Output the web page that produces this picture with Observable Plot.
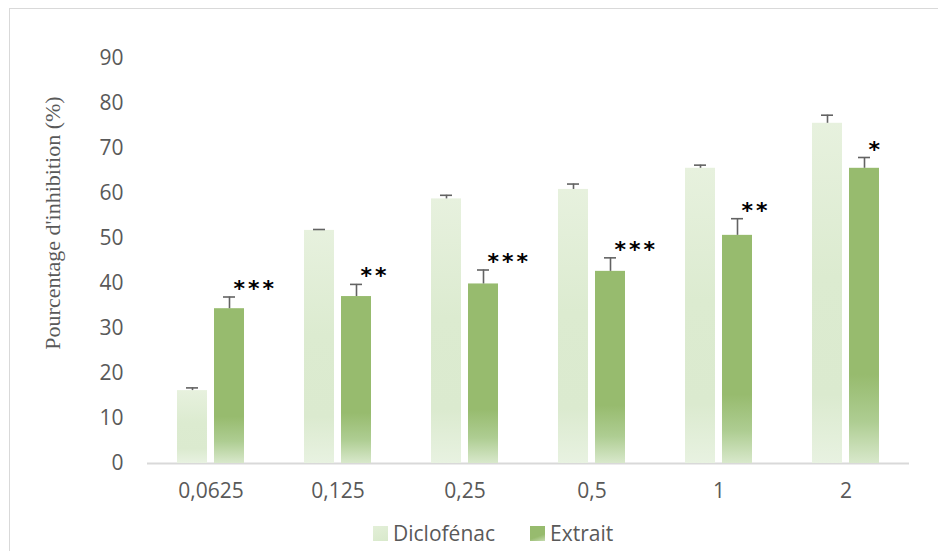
<!DOCTYPE html>
<html>
<head>
<meta charset="utf-8">
<script src="https://cdn.jsdelivr.net/npm/d3@7"></script>
<script src="https://cdn.jsdelivr.net/npm/@observablehq/plot@0.6"></script>
<style>
  html, body { margin: 0; padding: 0; background: #fff; }
  #chart { position: relative; width: 938px; height: 551px; overflow: hidden; }
  #frame { position: absolute; left: 9px; top: 8px; width: 960px; height: 600px; border: 1px solid #d9d9d9; box-sizing: border-box; pointer-events: none; }
  #plot { position: absolute; left: 0; top: 0; }
  #legend { position: absolute; left: 373px; top: 520px; height: 26px; display: flex; align-items: center;
            font-family: "Open Sans", sans-serif; font-size: 21px; color: #595959; }
  .item { display: flex; align-items: center; margin-right: 35px; }
  .sw { width: 15px; height: 15px; margin-right: 5px; }
  .stars text { letter-spacing: 3px; }
</style>
</head>
<body>
<div id="chart">
  <div id="plot"></div>
  <div id="frame"></div>
  <div id="legend"></div>
</div>
<script>
// Doses tested (mg/mL) and mean inhibition percentages with standard errors
const doses = ["0,0625", "0,125", "0,25", "0,5", "1", "2"];
const series = ["Diclofénac", "Extrait"];
const diclofenac = [16.2, 51.8, 58.8, 60.9, 65.6, 75.6];
const diclofenacErr = [0.6, 0.2, 0.8, 1.2, 0.7, 1.8];
const extrait = [34.4, 37.1, 39.9, 42.7, 50.7, 65.6];
const extraitErr = [2.6, 2.7, 3.1, 3.0, 3.7, 2.4];
const significance = ["***", "**", "***", "***", "**", "*"];
const yTicks = [0, 10, 20, 30, 40, 50, 60, 70, 80, 90];
const yTitle = "Pourcentage d'inhibition (%)";

const rows = doses.flatMap((dose, i) => [
  {dose, serie: series[0], value: diclofenac[i], err: diclofenacErr[i], sig: ""},
  {dose, serie: series[1], value: extrait[i], err: extraitErr[i], sig: significance[i]}
]);
const upper = d => d.value + d.err;

const plot = Plot.plot({
  width: 938,
  height: 505,
  marginLeft: 147,
  marginRight: 29,
  marginTop: 58,
  marginBottom: 42,
  style: {fontFamily: "'Open Sans', sans-serif", fontSize: "21px", color: "#595959", background: "transparent"},
  fx: {domain: doses, padding: 0, label: null},
  x: {domain: series, paddingInner: 7 / 37, paddingOuter: 0.81, axis: null},
  y: {domain: [0, 90], label: null},
  marks: [
    Plot.ruleY([0], {stroke: "#d9d9d9", strokeWidth: 2}),
    Plot.barY(rows.filter(d => d.serie === series[0]),
      {fx: "dose", x: "serie", y: "value", fill: "url(#gradDiclofenac)"}),
    Plot.barY(rows.filter(d => d.serie === series[1]),
      {fx: "dose", x: "serie", y: "value", fill: "url(#gradExtrait)"}),
    // upper error bars with caps
    Plot.ruleX(rows, {fx: "dose", x: "serie", y1: "value", y2: upper, stroke: "#636363", strokeWidth: 1.6}),
    Plot.tickY(rows, {fx: "dose", x: "serie", y: upper, stroke: "#636363", strokeWidth: 1.6, insetLeft: 9, insetRight: 9}),
    // significance stars
    Plot.text(rows.filter(d => d.sig), {
      fx: "dose", x: "serie", y: upper, text: "sig",
      textAnchor: "start", lineAnchor: "bottom", dx: 4, dy: -1,
      fontFamily: "DejaVu Sans", fontWeight: "bold", fontSize: 22, fill: "#000",
      className: "stars"
    }),
    Plot.axisY({ticks: yTicks, tickSize: 0, tickPadding: 24, label: null}),
    Plot.axisFx({anchor: "bottom", tickSize: 0, tickPadding: 20, label: null}),
    // y-axis title, drawn once beside the first dose group
    Plot.text([yTitle], {
      fx: () => doses[0], text: d => d, frameAnchor: "left", textAnchor: "middle", rotate: -90,
      dx: -95, dy: -38, fontFamily: "'Liberation Serif', serif", fontSize: 22, fill: "#595959"
    })
  ]
});

// Vertical gradients for the bars (objectBoundingBox: one per bar)
const defs = d3.select(plot).insert("defs", ":first-child");
function gradient(id, stops) {
  const g = defs.append("linearGradient").attr("id", id)
    .attr("x1", 0).attr("y1", 0).attr("x2", 0).attr("y2", 1);
  for (const [o, c] of stops) g.append("stop").attr("offset", o).attr("stop-color", c);
}
gradient("gradDiclofenac", [[0, "#e7f1de"], [0.45, "#dcebd0"], [0.8, "#dbeacf"], [1, "#e8f2e1"]]);
gradient("gradExtrait", [[0, "#97bb6e"], [0.7, "#97bb6e"], [0.86, "#aecd92"], [1, "#d8e8cb"]]);

document.getElementById("plot").appendChild(plot);

// Legend
const legend = d3.select("#legend");
const swatches = [
  "linear-gradient(160deg, #e3efd8, #d8e9cb)",
  "linear-gradient(160deg, #97bb6e 65%, #c6dcb1)"
];
series.forEach((s, i) => {
  const item = legend.append("div").attr("class", "item");
  item.append("div").attr("class", "sw").style("background", swatches[i]);
  item.append("span").text(s);
});
</script>
</body>
</html>
